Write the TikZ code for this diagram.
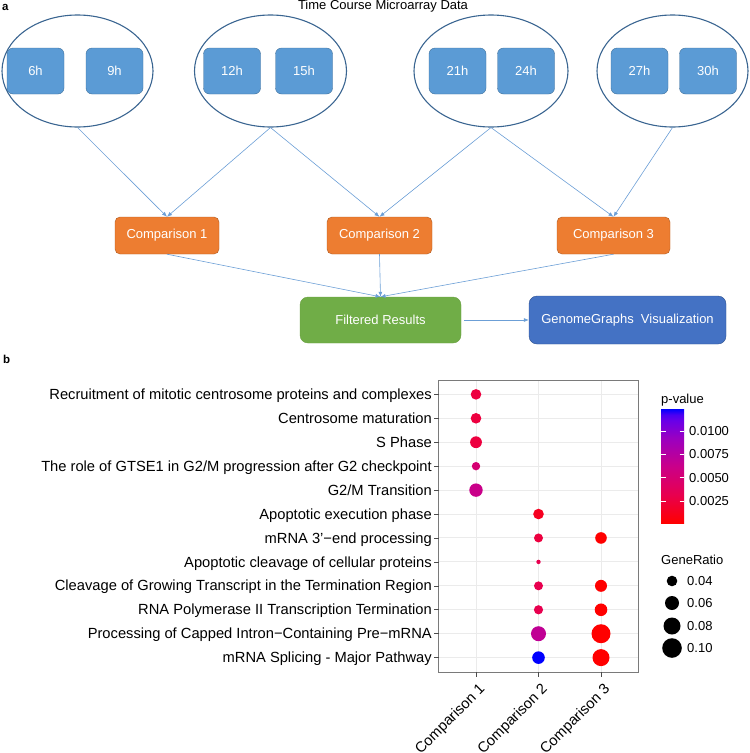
\documentclass[tikz,border=0pt]{standalone}
\usepackage{fontspec}
\setmainfont{Liberation Sans}
\usetikzlibrary{arrows.meta,shapes.geometric}

\definecolor{boxblue}{HTML}{5B9BD5}
\definecolor{boxblueline}{HTML}{41719C}
\definecolor{ovalline}{HTML}{3A6591}
\definecolor{cmporange}{HTML}{ED7D31}
\definecolor{cmpline}{HTML}{AE5A21}
\definecolor{filtgreen}{HTML}{70AD47}
\definecolor{filtline}{HTML}{6A9F42}
\definecolor{ggblue}{HTML}{4472C4}
\definecolor{ggline}{HTML}{2F528F}
\definecolor{linkblue}{HTML}{6C9FD6}
\definecolor{gridgray}{HTML}{EBEBEB}
\definecolor{framegray}{HTML}{7A7A7A}
% p-value colours (red = low, blue = high)
\definecolor{pv00}{RGB}{255,0,0}
\definecolor{pv10}{RGB}{246,0,32}
\definecolor{pv20}{RGB}{237,0,63}
\definecolor{pv25}{RGB}{232,0,79}
\definecolor{pv40}{RGB}{213,0,114}
\definecolor{pv50}{RGB}{201,0,137}
\definecolor{pv55}{RGB}{192,0,148}
\definecolor{pv100}{RGB}{0,0,255}

\pgfdeclareverticalshading{pvbar}{100bp}{rgb(0bp)=(1,0,0); rgb(25bp)=(1,0,0);
  rgb(37.5bp)=(0.91,0,0.31); rgb(50bp)=(0.79,0,0.54); rgb(62.5bp)=(0.60,0,0.76);
  rgb(70bp)=(0.41,0,0.91); rgb(72.5bp)=(0.29,0,0.95); rgb(75bp)=(0,0,1); rgb(100bp)=(0,0,1)}

\newcommand{\boxfont}{\fontsize{13}{15}\selectfont}
\newcommand{\axfont}{\fontsize{14.7}{17}\selectfont}

\begin{document}
\begin{tikzpicture}[x=1pt, y=-1pt, >={Latex[length=5pt,width=4pt]},
    oval/.style={draw=ovalline, line width=1.1pt, ellipse, minimum width=151pt, minimum height=112pt, inner sep=0pt},
    hourbox/.style={draw=boxblueline, fill=boxblue, rounded corners=6pt, minimum width=57pt, minimum height=46pt, inner sep=0pt, text=white, font=\boxfont},
    cmpbox/.style={draw=cmpline, fill=cmporange, rounded corners=5pt, minimum height=37pt, inner sep=0pt, text=white, font=\boxfont},
    link/.style={->, draw=linkblue, line width=0.6pt},
    gridline/.style={draw=gridgray, line width=1pt},
    tickmark/.style={draw=black!70, line width=0.6pt}]

\useasboundingbox (0,0) rectangle (750,753);

% panel a
\node[font=\bfseries\fontsize{11.5}{13}\selectfont, anchor=base west, inner sep=0pt] (lbla) at (2,10) {a};
\node[font=\boxfont, anchor=base, inner sep=0pt] (title) at (383,9.6) {Time Course Microarray Data};

% time point groups
\node[oval, minimum width=151pt] (e1) at (77.5,71) {};
\node[oval, minimum width=152pt] (e2) at (270.5,71) {};
\node[oval, minimum width=154pt] (e3) at (491,71) {};
\node[oval, minimum width=151pt] (e4) at (672.5,71) {};

\foreach \hr/\x in {6/35.5, 9/114.5, 12/232, 15/304, 21/457.5, 24/526, 27/639.5, 30/708}
  \node[hourbox] (h\hr) at (\x,71) {\hr h};

% comparisons
\node[cmpbox, minimum width=104pt] (cmp1) at (167,235.5) {Comparison 1};
\node[cmpbox, minimum width=105pt] (cmp2) at (379.5,235.5) {Comparison 2};
\node[cmpbox, minimum width=113pt] (cmp3) at (613.5,235.5) {Comparison 3};

\draw[link] (e1.south) -- (cmp1.north);
\draw[link] (e2.south) -- (cmp1.north);
\draw[link] (e2.south) -- (cmp2.north);
\draw[link] (e3.south) -- (cmp2.north);
\draw[link] (e3.south) -- (cmp3.north);
\draw[link] (e4.south) -- (cmp3.north);

% results
\node[draw=filtline, fill=filtgreen, rounded corners=8pt, minimum width=161pt, minimum height=46pt, inner sep=0pt, text=white, font=\boxfont] (filt) at (380.5,320) {Filtered Results};
\node[draw=ggline, fill=ggblue, rounded corners=8pt, minimum width=197pt, minimum height=48pt, inner sep=0pt, text=white, font=\boxfont] (gg) at (627.5,320) {GenomeGraphs\ \ Visualization};

\draw[link] (cmp1.south) -- (filt.north);
\draw[link] (cmp2.south) -- (filt.north);
\draw[link] (cmp3.south) -- (filt.north);
\draw[link] (filt.east) ++(3,0) -- (gg.west);

% panel b
\node[font=\bfseries\fontsize{11.5}{13}\selectfont, anchor=base west, inner sep=0pt] (lblb) at (3,363.3) {b};

% grid and frame
\foreach \i in {0,...,11}
  \draw[gridline] (438.5,{394.36+23.934*\i}) -- (638.5,{394.36+23.934*\i});
\foreach \c in {0,1,2}
  \draw[gridline] ({476+62.5*\c},380) -- ({476+62.5*\c},672);
\draw[draw=framegray, line width=0.8pt] (438.5,380) rectangle (638.5,672);

% pathway labels
\foreach \i/\lab in {0/{Recruitment of mitotic centrosome proteins and complexes},
    1/{Centrosome maturation}, 2/{S Phase},
    3/{The role of GTSE1 in G2/M progression after G2 checkpoint},
    4/{G2/M Transition}, 5/{Apoptotic execution phase},
    6/{mRNA 3'−end processing}, 7/{Apoptotic cleavage of cellular proteins},
    8/{Cleavage of Growing Transcript in the Termination Region},
    9/{RNA Polymerase II Transcription Termination},
    10/{Processing of Capped Intron−Containing Pre−mRNA},
    11/{mRNA Splicing - Major Pathway}} {
  \draw[tickmark] (434,{394.36+23.934*\i}) -- (438.5,{394.36+23.934*\i});
  \node[font=\axfont, anchor=base east, inner sep=0pt] (row\i) at (432,{399.5+23.934*\i}) {\lab};
}

% comparison labels
\foreach \c in {1,2,3} {
  \draw[tickmark] ({476+62.5*(\c-1)},672) -- ({476+62.5*(\c-1)},676.5);
  \node[font=\axfont, anchor=north east, rotate=45, inner sep=0pt] (col\c) at ({478+62.5*(\c-1)},682) {Comparison \c};
}

% dots: column/row/radius/colour
\foreach \c/\i/\r/\col in {1/0/5.3/pv20, 1/1/5.3/pv20, 1/2/5.9/pv20, 1/3/4.2/pv40, 1/4/6.7/pv50,
    2/5/5.3/pv10, 2/6/4.5/pv20, 2/7/2.2/pv25, 2/8/4.5/pv25, 2/9/4.6/pv25, 2/10/7.5/pv55, 2/11/6.3/pv100,
    3/6/5.8/pv00, 3/8/6.0/pv00, 3/9/6.3/pv00, 3/10/9.5/pv00, 3/11/8.5/pv00}
  \fill[\col] ({476+62.5*(\c-1)},{394.36+23.934*\i}) circle[radius=\r pt];

% legend: p-value
\node[font=\boxfont, anchor=base west, inner sep=0pt] (pvtitle) at (661,403) {p-value};
\shade[shading=pvbar] (661,409) rectangle (684,523);
\foreach \y/\lab in {501/0.0025, 477.7/0.0050, 454.3/0.0075, 431/0.0100} {
  \draw[white, line width=0.6pt] (661,\y) -- (665.5,\y);
  \draw[white, line width=0.6pt] (679.5,\y) -- (684,\y);
  \node[font=\boxfont, anchor=base west, inner sep=0pt] at (689,{\y+4.6}) {\lab};
}

% legend: GeneRatio
\node[font=\boxfont, anchor=base west, inner sep=0pt] (grtitle) at (661,564) {GeneRatio};
\foreach \y/\r/\lab in {581/5.3/0.04, 603/7.0/0.06, 626/8.5/0.08, 648/9.8/0.10} {
  \fill[black] (672,\y) circle[radius=\r pt];
  \node[font=\boxfont, anchor=base west, inner sep=0pt] at (687,{\y+4.6}) {\lab};
}
\end{tikzpicture}
\end{document}
